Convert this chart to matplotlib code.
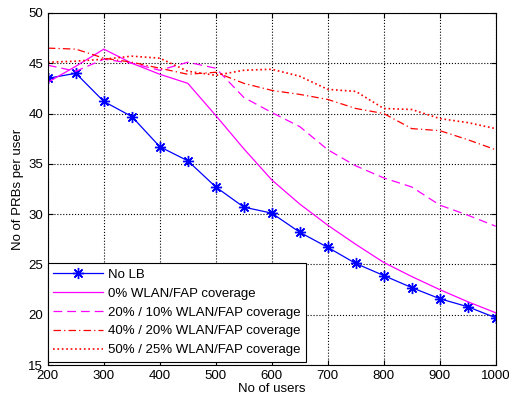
import numpy as np
import matplotlib.pyplot as plt

plt.rcParams['font.family'] = ['Liberation Sans', 'DejaVu Sans']

users = np.arange(200, 1001, 50)

no_lb = [43.5, 44.0, 41.2, 39.7, 36.7, 35.3, 32.7, 30.7, 30.1, 28.2, 26.7,
         25.1, 23.9, 22.7, 21.6, 20.8, 19.7]
cov_0 = [43.1, 44.7, 46.4, 45.0, 43.9, 43.0, 39.8, 36.5, 33.4, 31.0, 28.9,
         27.0, 25.2, 23.8, 22.5, 21.3, 20.2]
cov_20_10 = [44.8, 44.2, 45.4, 45.0, 44.3, 45.1, 44.5, 41.6, 40.1, 38.7, 36.4,
             34.8, 33.6, 32.7, 30.9, 29.9, 28.8]
cov_40_20 = [46.5, 46.4, 45.5, 45.1, 44.5, 43.9, 44.1, 43.0, 42.3, 41.9, 41.4,
             40.5, 40.0, 38.5, 38.3, 37.4, 36.4]
cov_50_25 = [45.1, 45.2, 45.4, 45.7, 45.5, 44.2, 43.8, 44.3, 44.4, 43.7, 42.4,
             42.2, 40.5, 40.4, 39.5, 39.1, 38.5]

labels = ['No LB', '0% WLAN/FAP coverage', '20% / 10% WLAN/FAP coverage',
          '40% / 20% WLAN/FAP coverage', '50% / 25% WLAN/FAP coverage']

fig = plt.figure(figsize=(5.09, 4.03), dpi=100)
ax = fig.add_axes([0.094, 0.094, 0.880, 0.874])

ax.plot(users, no_lb, color='#0000ff', marker=(8, 2, 0), markersize=8,
        markeredgewidth=1.0, lw=0.9, label=labels[0])
ax.plot(users, cov_0, color='#ff00ff', lw=0.9, label=labels[1])
ax.plot(users, cov_20_10, color='#ff00ff', lw=0.9, dashes=(7, 4), label=labels[2])
ax.plot(users, cov_40_20, color='#ff0000', lw=0.9, dashes=(6, 2.5, 1, 2.5), label=labels[3])
ax.plot(users, cov_50_25, color='#ff0000', lw=1.2, ls=':', label=labels[4])

ax.set_xlim(200, 1000)
ax.set_ylim(15, 50)
ax.set_xticks(range(200, 1001, 100))
ax.set_yticks(range(15, 51, 5))
ax.grid(True, color='black', ls=':', lw=0.8)
ax.tick_params(direction='in', labelsize=9.5, top=True, right=True)
ax.set_xlabel('No of users', fontsize=9.5, labelpad=1)
ax.set_ylabel('No of PRBs per user', fontsize=9.5, labelpad=3)

leg = ax.legend(loc='lower left', bbox_to_anchor=(0, 0.01), fontsize=9.5,
                fancybox=False, framealpha=1, edgecolor='black',
                borderaxespad=0, handlelength=3.8, handletextpad=0.35,
                labelspacing=0.5, borderpad=0.4)
leg.get_frame().set_linewidth(0.8)

fig.savefig('out.png', dpi=100)
